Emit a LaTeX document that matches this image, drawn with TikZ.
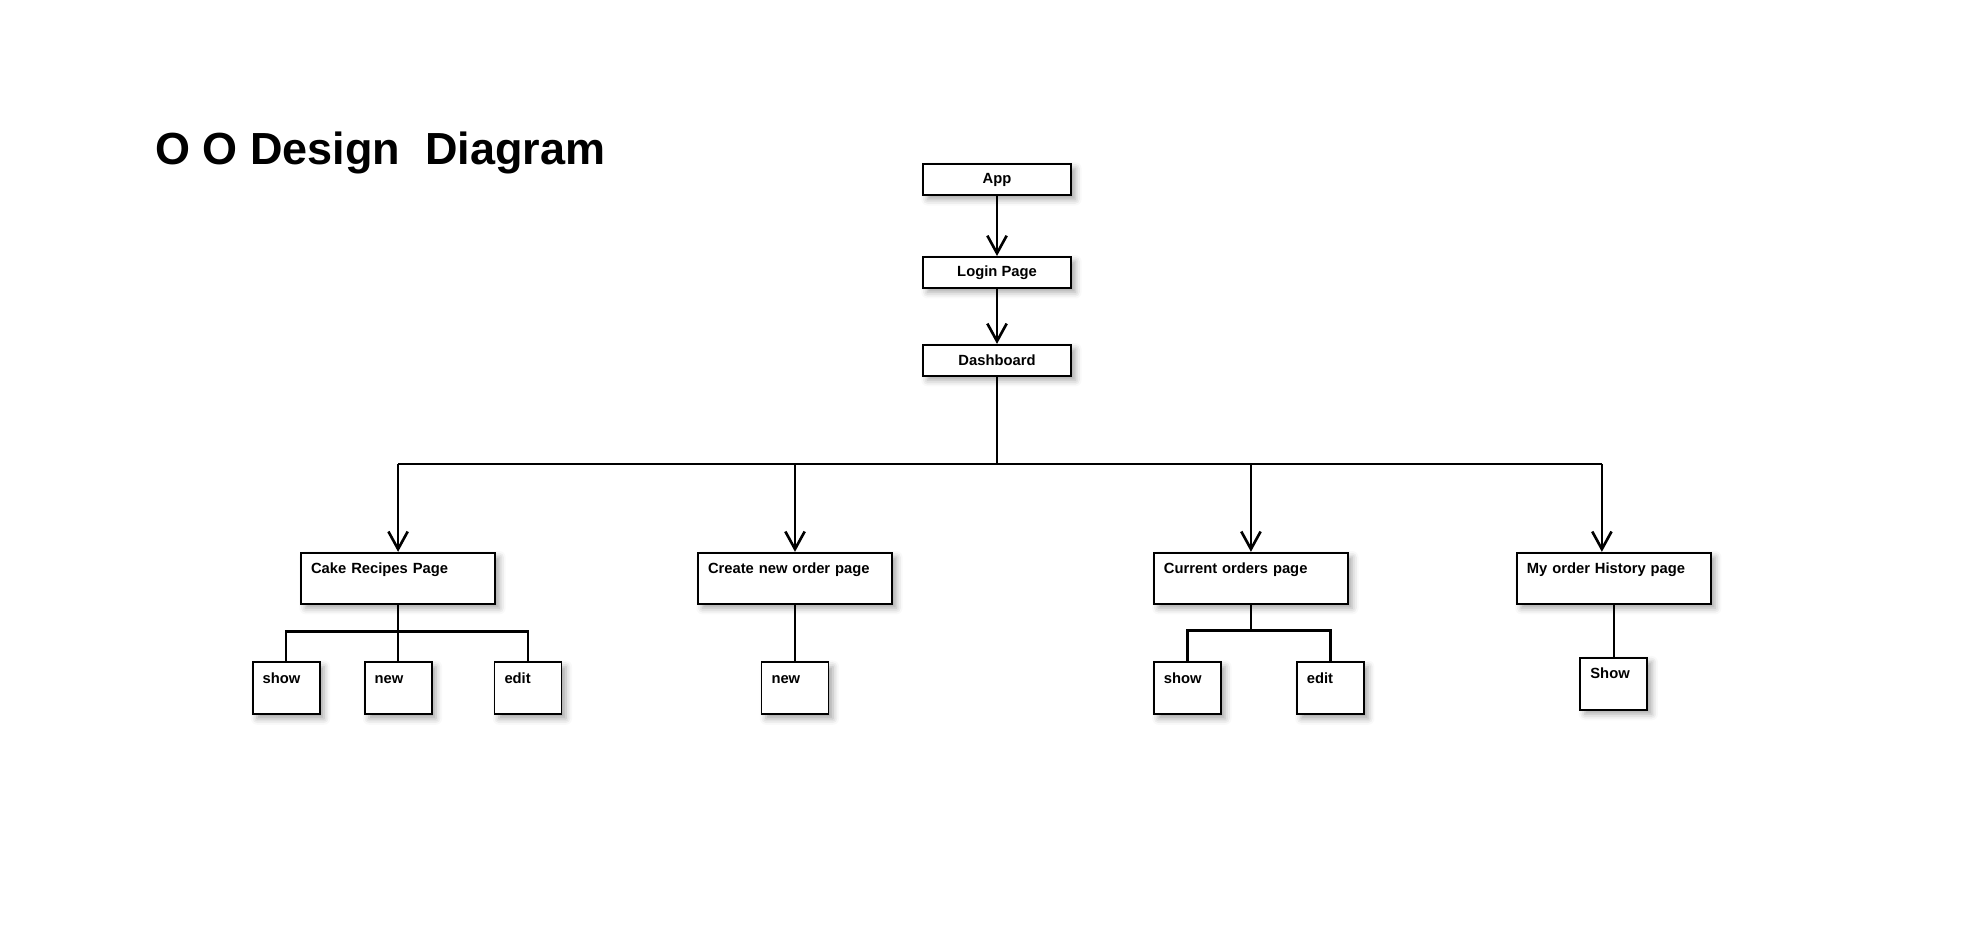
\documentclass[tikz,border=0pt]{standalone}
\usepackage{fontspec}
\setmainfont{Liberation Sans}
\usetikzlibrary{positioning,arrows.meta,shadows.blur}

\begin{document}
\begin{tikzpicture}[
	font=\fontsize{8.4}{10}\selectfont\bfseries,
	box/.style={
		rectangle,
		draw,
		line width=1.1pt,
		fill=white,
		blur shadow={shadow xshift=2.5pt, shadow yshift=-2.5pt, shadow blur radius=3.5pt, shadow opacity=35}
	},
	top_box/.style={
		box,
		inner sep=0pt,
		minimum width=2.96cm,
		minimum height=0.62cm
	},
	page/.style={
		box,
		align=left,
		inner xsep=0.2cm,
		inner ysep=0pt,
		text width=3.48cm,
		text height=0.42cm,
		text depth=0.6cm
	},
	small_page/.style={
		box,
		align=left,
		inner xsep=0.2cm,
		inner ysep=0pt,
		text width=0.94cm,
		text height=0.42cm,
		text depth=0.62cm
	},
	line/.style={line width=1.5pt},
	arrow/.style={line, -{Straight Barb[length=10pt,width=11pt]}}
	]
	\useasboundingbox (0,0) rectangle (39.5,-18.86);
	
	\node (title) [anchor=base west, font=\fontsize{25.6}{30}\selectfont\bfseries] at (2.98,-3.3) {O O Design\ \ Diagram};
	
	% top chain
	\node (app) [top_box] at (19.94,-3.59) {App};
	\node (login) [top_box, below=1.2cm of app] {Login Page};
	\node (dashboard) [top_box, below=1.1cm of login] {Dashboard};
	\draw[arrow] (app) -- (login);
	\draw[arrow] (login) -- (dashboard);
	
	% pages
	\node (cake) [page, below left=3.5cm and 8.52cm of dashboard] {Cake Recipes Page};
	\node (create) [page, right=4.02cm of cake] {Create new order page};
	\node (current) [page, right=5.2cm of create] {Current orders page};
	\node (history) [page, right=3.34cm of current] {My order History page};
	
	\draw[line] (dashboard.south) -- ++(0,-1.74) coordinate (bus);
	\coordinate (history_in) at ([xshift=-0.24cm]history.north);
	\draw[line] (bus -| cake.north) -- (bus -| history_in);
	\draw[arrow] (bus -| cake.north) -- (cake.north);
	\draw[arrow] (bus -| create.north) -- (create.north);
	\draw[arrow] (bus -| current.north) -- (current.north);
	\draw[arrow] (bus -| history_in) -- (history_in);
	
	% cake recipes
	\node (cake_new) [small_page, below=1.13cm of cake] {new};
	\node (cake_show) [small_page, left=0.86cm of cake_new] {show};
	\node (cake_edit) [small_page, right=1.22cm of cake_new] {edit};
	\draw[line] (cake.south) -- ++(0,-0.54) coordinate (cake_bus);
	\draw[line] (cake_show.north) |- (cake_bus) -| (cake_edit.north);
	\draw[line] (cake_bus) -- (cake_new.north);
	
	% create new order
	\node (create_new) [small_page, below=1.13cm of create] {new};
	\draw[line] (create) -- (create_new);
	
	% current orders
	\node (current_show) [small_page, below right=1.13cm and 0cm of current.south west] {show};
	\node (current_edit) [small_page, right=1.48cm of current_show] {edit};
	\draw[line] (current.south) -- ++(0,-0.52) coordinate (current_bus);
	\draw[line] (current_show.north) |- (current_bus) -| (current_edit.north);
	
	% order history
	\node (history_show) [small_page, below=1.04cm of history] {Show};
	\draw[line] (history) -- (history_show);
	
\end{tikzpicture}
\end{document}
